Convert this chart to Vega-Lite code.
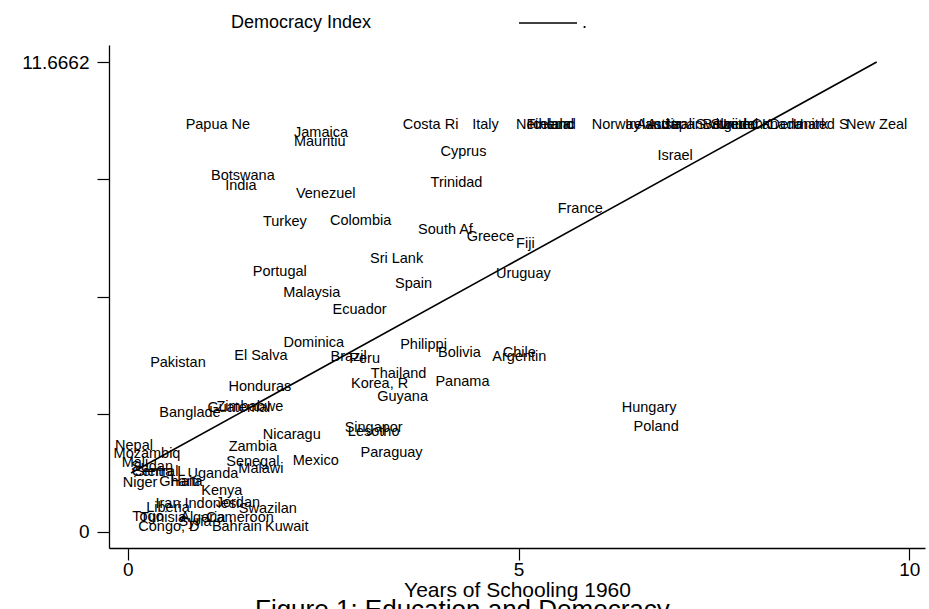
{
  "$schema": "https://vega.github.io/schema/vega-lite/v6.json",
  "width": 816,
  "height": 503,
  "autosize": {"type": "none"},
  "padding": {"left": 109, "top": 45, "right": 4, "bottom": 61},
  "background": "white",
  "config": {
    "view": {"stroke": null},
    "font": "Liberation Sans",
    "axis": {"grid": false, "domainColor": "black", "tickColor": "black", "labelColor": "black", "titleColor": "black", "domainWidth": 1.3, "tickWidth": 1.2}
  },
  "title": {
    "text": "Figure 1: Education and Democracy",
    "orient": "bottom",
    "anchor": "start",
    "frame": "group",
    "dx": 146,
    "offset": -3,
    "fontSize": 26,
    "fontWeight": "normal",
    "color": "black",
    "font": "Liberation Sans"
  },
  "layer": [
    {
      "data": {
        "values": [
          {"country": "Papua Ne", "schooling": 1.153, "democracy": 10.10},
          {"country": "Costa Ri", "schooling": 3.874, "democracy": 10.10},
          {"country": "Italy", "schooling": 4.576, "democracy": 10.10},
          {"country": "Netherla", "schooling": 5.317, "democracy": 10.10},
          {"country": "Finland", "schooling": 5.406, "democracy": 10.10},
          {"country": "Iceland", "schooling": 5.432, "democracy": 10.10},
          {"country": "Norway", "schooling": 6.250, "democracy": 10.10},
          {"country": "Ireland", "schooling": 6.645, "democracy": 10.10},
          {"country": "Austria", "schooling": 6.798, "democracy": 10.10},
          {"country": "Australi", "schooling": 6.951, "democracy": 10.10},
          {"country": "Japan", "schooling": 7.105, "democracy": 10.10},
          {"country": "Switzerl", "schooling": 7.590, "democracy": 10.10},
          {"country": "Belgium", "schooling": 7.692, "democracy": 10.10},
          {"country": "Sweden", "schooling": 7.794, "democracy": 10.10},
          {"country": "United K", "schooling": 7.884, "democracy": 10.10},
          {"country": "Canada", "schooling": 8.305, "democracy": 10.10},
          {"country": "Denmark", "schooling": 8.586, "democracy": 10.10},
          {"country": "United S", "schooling": 8.867, "democracy": 10.10},
          {"country": "New Zeal", "schooling": 9.582, "democracy": 10.10},
          {"country": "Jamaica", "schooling": 2.473, "democracy": 9.896},
          {"country": "Mauritiu", "schooling": 2.456, "democracy": 9.687},
          {"country": "Botswana", "schooling": 1.473, "democracy": 8.835},
          {"country": "India", "schooling": 1.447, "democracy": 8.587},
          {"country": "Venezuel", "schooling": 2.533, "democracy": 8.381},
          {"country": "Turkey", "schooling": 2.010, "democracy": 7.700},
          {"country": "Colombia", "schooling": 2.980, "democracy": 7.725},
          {"country": "Sri Lank", "schooling": 3.439, "democracy": 6.766},
          {"country": "Portugal", "schooling": 1.945, "democracy": 6.458},
          {"country": "Cyprus", "schooling": 4.295, "democracy": 9.439},
          {"country": "Israel", "schooling": 7.003, "democracy": 9.339},
          {"country": "Trinidad", "schooling": 4.206, "democracy": 8.669},
          {"country": "France", "schooling": 5.789, "democracy": 8.023},
          {"country": "South Af", "schooling": 4.065, "democracy": 7.494},
          {"country": "Greece", "schooling": 4.640, "democracy": 7.327},
          {"country": "Fiji", "schooling": 5.087, "democracy": 7.156},
          {"country": "Uruguay", "schooling": 5.061, "democracy": 6.408},
          {"country": "Spain", "schooling": 3.656, "democracy": 6.153},
          {"country": "Malaysia", "schooling": 2.354, "democracy": 5.922},
          {"country": "Ecuador", "schooling": 2.966, "democracy": 5.507},
          {"country": "Dominica", "schooling": 2.380, "democracy": 4.680},
          {"country": "El Salva", "schooling": 1.703, "democracy": 4.364},
          {"country": "Pakistan", "schooling": 0.642, "democracy": 4.183},
          {"country": "Brazil", "schooling": 2.826, "democracy": 4.347},
          {"country": "Peru", "schooling": 3.031, "democracy": 4.290},
          {"country": "Philippi", "schooling": 3.784, "democracy": 4.637},
          {"country": "Bolivia", "schooling": 4.244, "democracy": 4.431},
          {"country": "Chile", "schooling": 5.010, "democracy": 4.431},
          {"country": "Argentin", "schooling": 5.010, "democracy": 4.332},
          {"country": "Thailand", "schooling": 3.465, "democracy": 3.910},
          {"country": "Korea, R", "schooling": 3.222, "democracy": 3.669},
          {"country": "Panama", "schooling": 4.282, "democracy": 3.726},
          {"country": "Guyana", "schooling": 3.516, "democracy": 3.353},
          {"country": "Honduras", "schooling": 1.690, "democracy": 3.602},
          {"country": "Zimbabwe", "schooling": 1.562, "democracy": 3.105},
          {"country": "Guatemal", "schooling": 1.421, "democracy": 3.065},
          {"country": "Banglade", "schooling": 0.796, "democracy": 2.941},
          {"country": "Hungary", "schooling": 6.671, "democracy": 3.065},
          {"country": "Poland", "schooling": 6.760, "democracy": 2.608},
          {"country": "Nicaragu", "schooling": 2.098, "democracy": 2.402},
          {"country": "Singapor", "schooling": 3.146, "democracy": 2.568},
          {"country": "Lesotho", "schooling": 3.146, "democracy": 2.484},
          {"country": "Paraguay", "schooling": 3.375, "democracy": 1.962},
          {"country": "Nepal", "schooling": 0.080, "democracy": 2.129},
          {"country": "Mozambiq", "schooling": 0.246, "democracy": 1.922},
          {"country": "Zambia", "schooling": 1.600, "democracy": 2.111},
          {"country": "Senegal", "schooling": 1.600, "democracy": 1.739},
          {"country": "Malawi", "schooling": 1.703, "democracy": 1.550},
          {"country": "Mexico", "schooling": 2.405, "democracy": 1.756},
          {"country": "Mali", "schooling": 0.093, "democracy": 1.706},
          {"country": "Sudan", "schooling": 0.310, "democracy": 1.607},
          {"country": "Central", "schooling": 0.349, "democracy": 1.483},
          {"country": "Sierra L", "schooling": 0.413, "democracy": 1.483},
          {"country": "Uganda", "schooling": 1.089, "democracy": 1.433},
          {"country": "Niger", "schooling": 0.157, "democracy": 1.202},
          {"country": "Ghana", "schooling": 0.680, "democracy": 1.222},
          {"country": "Haiti", "schooling": 0.732, "democracy": 1.222},
          {"country": "Kenya", "schooling": 1.204, "democracy": 1.011},
          {"country": "Iran", "schooling": 0.515, "democracy": 0.688},
          {"country": "Liberia", "schooling": 0.515, "democracy": 0.589},
          {"country": "Indonesi", "schooling": 1.077, "democracy": 0.688},
          {"country": "Jordan", "schooling": 1.409, "democracy": 0.713},
          {"country": "Swazilan", "schooling": 1.792, "democracy": 0.564},
          {"country": "Togo", "schooling": 0.259, "democracy": 0.365},
          {"country": "Tunisia", "schooling": 0.451, "democracy": 0.340},
          {"country": "Algeria", "schooling": 0.960, "democracy": 0.348},
          {"country": "Cameroon", "schooling": 1.435, "democracy": 0.348},
          {"country": "Syria", "schooling": 0.862, "democracy": 0.241},
          {"country": "Congo, D", "schooling": 0.527, "democracy": 0.117},
          {"country": "Bahrain", "schooling": 1.396, "democracy": 0.117},
          {"country": "Kuwait", "schooling": 2.034, "democracy": 0.117}
        ]
      },
      "mark": {"type": "text", "fontSize": 14.5, "align": "center", "baseline": "middle", "font": "Liberation Sans"},
      "encoding": {
        "x": {
          "field": "schooling",
          "type": "quantitative",
          "scale": {"domain": [-0.24, 10.2], "nice": false, "zero": false},
          "axis": {
            "values": [0, 5, 10],
            "format": "d",
            "title": "Years of Schooling 1960",
            "tickSize": 12,
            "labelFontSize": 19,
            "titleFontSize": 21,
            "titleFontWeight": "normal",
            "labelPadding": 0,
            "titlePadding": 0,
            "labelFlush": false,
            "labelOverlap": false
          }
        },
        "y": {
          "field": "democracy",
          "type": "quantitative",
          "scale": {"domain": [-0.405, 12.089], "nice": false, "zero": false},
          "axis": {
            "values": [0, 2.91655, 5.8331, 8.74965, 11.6662],
            "labelExpr": "datum.value == 0 ? '0' : (datum.value > 11 ? '11.6662' : '')",
            "title": null,
            "tickSize": 12,
            "labelFontSize": 19,
            "labelPadding": 8,
            "labelOverlap": false,
            "labelFlush": false
          }
        },
        "text": {"field": "country"},
        "color": {
          "datum": "Democracy Index",
          "type": "nominal",
          "scale": {"domain": ["Democracy Index", "."], "range": ["black", "black"]},
          "legend": {
            "orient": "none",
            "legendX": 58,
            "legendY": -52,
            "direction": "horizontal",
            "title": null,
            "symbolType": "stroke",
            "symbolSize": 3364,
            "symbolStrokeWidth": 1.5,
            "labelFontSize": 18,
            "labelLimit": 400,
            "labelOffset": 4,
            "columnPadding": 144,
            "padding": 0,
            "labelColor": "black",
            "encode": {
              "symbols": {
                "update": {
                  "stroke": {"value": "black"},
                  "fill": {"value": "transparent"},
                  "strokeOpacity": {"signal": "datum.label === '.' ? 1 : 0"}
                }
              }
            }
          }
        }
      }
    },
    {
      "data": {
        "values": [
          {"schooling": 0.042, "fitted": 1.458},
          {"schooling": 9.582, "fitted": 11.6662}
        ]
      },
      "mark": {"type": "line", "strokeWidth": 1.6},
      "encoding": {
        "x": {"field": "schooling", "type": "quantitative"},
        "y": {"field": "fitted", "type": "quantitative"},
        "color": {"datum": "."}
      }
    }
  ]
}
